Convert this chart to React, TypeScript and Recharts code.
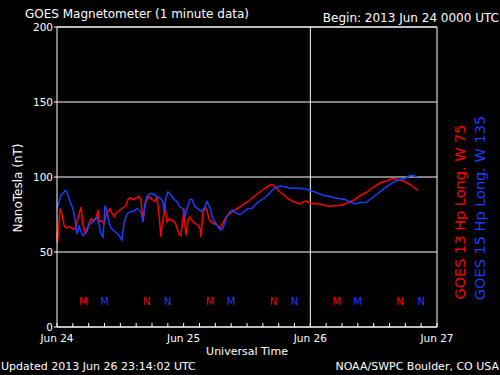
import React from 'react';
import {
  ComposedChart,
  Line,
  Scatter,
  XAxis,
  YAxis,
  CartesianGrid,
  ReferenceLine,
} from 'recharts';

// hours since 2013 Jun 24 00:00 UT, field in nT
const goes13: [number, number][] = [
  [0, 63], [0.1, 56], [0.57, 79], [0.95, 75], [1.33, 68], [1.71, 66], [2.27, 67], [2.84, 66],
  [3.41, 65], [4.17, 75], [4.55, 80], [4.93, 68], [5.31, 62.5], [5.68, 63.6], [6.06, 69], [6.44, 72],
  [7.01, 71], [7.39, 72], [7.77, 78], [7.96, 70], [8.34, 71], [8.72, 70], [8.9, 68], [9.28, 75],
  [9.66, 77], [10.04, 79], [10.42, 76], [10.8, 73.5], [11.18, 76], [11.56, 77], [11.94, 78], [12.32, 79],
  [12.69, 80], [13.07, 81], [13.45, 85], [13.83, 86], [14.4, 85], [14.97, 86], [15.54, 87], [15.92, 85],
  [16.29, 70], [16.67, 81], [17.05, 85], [17.43, 87], [18.0, 85], [18.57, 83.6], [18.95, 87], [19.33, 75],
  [19.7, 60], [19.89, 68], [20.27, 75], [20.46, 81], [20.84, 70], [21.22, 72], [21.79, 71], [22.36, 70],
  [22.74, 65.8], [23.11, 62], [23.49, 61], [23.87, 72], [24.06, 79], [24.25, 68], [24.44, 61], [24.82, 71],
  [25.2, 73.5], [25.58, 71], [26.15, 69], [26.71, 68], [27.09, 66], [27.28, 60], [27.66, 76], [28.04, 80],
  [28.42, 78], [28.8, 72], [29.18, 70], [29.75, 69], [30.31, 68], [30.88, 66], [31.26, 68], [31.83, 72],
  [32.4, 75], [32.97, 76], [33.73, 78], [34.67, 80], [35.62, 82.5], [36.19, 83.5], [36.95, 86], [37.7, 88],
  [38.46, 90], [39.22, 92], [39.98, 94], [40.74, 95], [41.49, 93], [42.25, 90], [43.01, 88], [43.77, 85.5],
  [44.52, 84], [45.28, 83], [46.04, 82], [46.99, 84], [47.94, 83], [48.88, 82], [49.83, 82], [50.78, 81],
  [51.72, 80.5], [52.67, 81], [53.62, 81], [54.57, 82], [55.51, 83.5], [56.46, 85], [57.41, 87.5], [58.74, 90],
  [59.87, 93], [61.2, 96], [62.52, 97.5], [63.66, 99], [64.99, 98], [65.93, 97], [66.88, 95], [67.64, 93],
  [68.4, 91],
];

const goes15: [number, number][] = [
  [0, 79], [0.38, 83.6], [0.76, 88], [1.14, 89], [1.52, 91], [1.89, 90], [2.27, 86], [2.65, 82],
  [3.03, 79], [3.41, 72], [3.79, 62], [4.17, 67], [4.55, 63.6], [4.93, 61], [5.31, 62], [5.68, 65.8],
  [6.06, 68], [6.44, 69], [6.82, 70], [7.2, 72], [7.58, 73.5], [7.96, 68], [8.34, 62], [8.72, 60],
  [9.09, 81], [9.47, 77], [9.85, 70], [10.23, 65.8], [10.61, 64.7], [10.99, 63.6], [11.37, 62.5], [11.75, 61],
  [12.13, 59], [12.32, 58], [12.69, 69], [13.07, 73.5], [13.45, 76], [14.02, 77], [14.59, 77], [15.16, 79],
  [15.54, 78], [15.92, 77], [16.29, 70], [16.67, 82.5], [17.05, 87], [17.62, 89], [18.0, 89], [18.57, 88],
  [18.95, 87], [19.52, 86], [20.08, 83.6], [20.27, 77], [20.65, 86], [21.03, 90], [21.6, 88], [22.17, 85],
  [22.74, 83.6], [23.3, 80], [23.87, 79], [24.25, 73.5], [24.63, 79], [25.2, 85], [25.58, 85], [26.15, 80],
  [26.71, 79], [27.28, 77], [27.85, 79], [28.42, 83.6], [28.8, 81], [29.18, 77], [29.56, 72], [29.94, 70],
  [30.31, 68], [30.69, 65.8], [31.07, 64.7], [31.45, 65.8], [31.83, 70], [32.21, 73.5], [32.78, 77], [33.35, 78],
  [33.91, 76], [34.67, 74.7], [35.43, 77], [36.19, 79], [36.95, 79], [37.7, 82], [38.46, 84], [39.22, 86],
  [39.98, 88], [40.74, 91], [41.49, 93], [42.25, 94], [43.2, 93.5], [44.15, 92.5], [45.09, 92.5], [46.04, 92.5],
  [46.99, 92], [47.94, 91], [48.88, 90], [49.83, 88.7], [50.78, 87.5], [51.72, 87], [52.67, 86], [53.62, 85.5],
  [54.57, 85], [55.51, 83.5], [56.46, 82], [57.41, 83], [58.55, 83], [59.68, 86], [60.82, 89], [62.15, 92.7],
  [63.47, 96], [64.61, 98], [65.93, 99], [66.88, 101], [67.45, 101], [68.21, 100],
];

// local midnight (M) / noon (N) markers
const marks13: [number, string][] = [[5, 'M'], [17, 'N'], [29, 'M'], [41, 'N'], [53, 'M'], [65, 'N']];
const marks15: [number, string][] = [[9, 'M'], [21, 'N'], [33, 'M'], [45, 'N'], [57, 'M'], [69, 'N']];
const markLevel = 17;

const dayLabels = ['Jun 24', 'Jun 25', 'Jun 26', 'Jun 27'];
const minorTicks = Array.from({ length: 25 }, (_, i) => i * 3);
const yTicks = [0, 50, 100, 150, 200];

const RED = '#ff0000';
const BLUE = '#1e3cff';
const FONT = 'DejaVu Sans';

const d13 = goes13.map(([h, v]) => ({ h, v }));
const d15 = goes15.map(([h, v]) => ({ h, v }));
const m13 = marks13.map(([h, m]) => ({ h, v: markLevel, m }));
const m15 = marks15.map(([h, m]) => ({ h, v: markLevel, m }));

const markShape = (color: string) => (props: any) => (
  <text
    x={props.cx}
    y={props.cy}
    fill={color}
    fontSize={10}
    fontFamily={FONT}
    textAnchor="middle"
    dominantBaseline="central"
  >
    {props.payload.m}
  </text>
);

const dayFmt = (h: number) => (h % 24 === 0 ? dayLabels[h / 24] : '');

export default function App() {
  return (
    <div style={{ position: 'absolute', left: 0, top: 0, width: 500, height: 375, background: '#000' }}>
      <ComposedChart
        width={500}
        height={375}
        margin={{ top: 17, right: 63, bottom: 28, left: 0 }}
      >
        <CartesianGrid xAxisId="b" stroke="#fff" vertical={false} />
        <XAxis
          xAxisId="t"
          orientation="top"
          type="number"
          dataKey="h"
          domain={[0, 72]}
          ticks={minorTicks}
          tickFormatter={() => ''}
          tickSize={-4}
          height={10}
          stroke="#fff"
          axisLine={{ stroke: '#fff' }}
          tickLine={{ stroke: '#fff' }}
        />
        <XAxis
          xAxisId="b"
          type="number"
          dataKey="h"
          domain={[0, 72]}
          ticks={minorTicks}
          tickFormatter={dayFmt}
          tickSize={-4}
          tickMargin={12}
          height={20}
          interval={0}
          axisLine={{ stroke: '#fff' }}
          tickLine={{ stroke: '#fff' }}
          tick={{ fill: '#fff', fontSize: 10.5, fontFamily: FONT }}
        />
        <YAxis
          type="number"
          domain={[0, 200]}
          ticks={yTicks}
          width={57}
          tickSize={3}
          tickMargin={1}
          axisLine={{ stroke: '#fff' }}
          tickLine={{ stroke: '#fff' }}
          tick={{ fill: '#fff', fontSize: 10.5, fontFamily: FONT }}
        />
        <ReferenceLine xAxisId="b" x={48} stroke="#fff" />
        <ReferenceLine xAxisId="b" x={72} stroke="#fff" />
        <Line
          xAxisId="b"
          data={d13}
          dataKey="v"
          type="linear"
          stroke={RED}
          strokeWidth={1.5}
          dot={false}
          isAnimationActive={false}
        />
        <Line
          xAxisId="b"
          data={d15}
          dataKey="v"
          type="linear"
          stroke={BLUE}
          strokeWidth={1.5}
          dot={false}
          isAnimationActive={false}
        />
        <Scatter xAxisId="b" data={m13} dataKey="v" shape={markShape(RED)} isAnimationActive={false} />
        <Scatter xAxisId="b" data={m15} dataKey="v" shape={markShape(BLUE)} isAnimationActive={false} />
      </ComposedChart>
      <svg
        width={500}
        height={375}
        style={{ position: 'absolute', left: 0, top: 0, pointerEvents: 'none' }}
        fontFamily={FONT}
      >
        <text x={25} y={18} fill="#fff" fontSize={12}>GOES Magnetometer (1 minute data)</text>
        <text x={499} y={22} fill="#fff" fontSize={12} textAnchor="end">Begin: 2013 Jun 24 0000 UTC</text>
        <text x={247} y={355} fill="#fff" fontSize={11} textAnchor="middle">Universal Time</text>
        <text x={1} y={370} fill="#fff" fontSize={11}>Updated 2013 Jun 26 23:14:02 UTC</text>
        <text x={499} y={370} fill="#fff" fontSize={11} textAnchor="end">NOAA/SWPC Boulder, CO USA</text>
        <text
          x={0}
          y={0}
          fill="#fff"
          fontSize={12}
          textAnchor="middle"
          transform="translate(22,188) rotate(-90)"
        >
          NanoTesla (nT)
        </text>
        <text
          x={0}
          y={0}
          fill={RED}
          fontSize={14.5}
          textAnchor="middle"
          transform="translate(465,212) rotate(-90)"
        >
          GOES 13 Hp  Long. W 75
        </text>
        <text
          x={0}
          y={0}
          fill={BLUE}
          fontSize={14.5}
          textAnchor="middle"
          transform="translate(485,208) rotate(-90)"
        >
          GOES 15 Hp  Long. W 135
        </text>
      </svg>
    </div>
  );
}
